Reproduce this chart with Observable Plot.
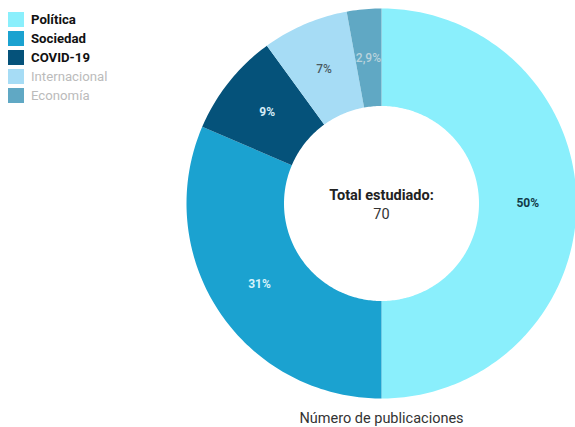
<!DOCTYPE html>
<html><head><meta charset="utf-8">
<script src="https://cdn.jsdelivr.net/npm/d3@7"></script>
<script src="https://cdn.jsdelivr.net/npm/@observablehq/plot@0.6"></script>
<style>
html,body{margin:0;padding:0;background:#fff;overflow:hidden;width:575px;height:427px;}
#wrap{position:relative;width:575px;height:427px;font-family:Roboto,"Noto Sans",sans-serif;}
#legend{position:absolute;left:8px;top:10px;font-size:13.2px;line-height:19px;}
.row{display:flex;align-items:center;height:19px;}
.sw{width:16px;height:15px;margin-right:7px;}
</style></head>
<body><div id="wrap"><div id="chart"></div><div id="legend"></div></div>
<script>
const categories = ["Política","Sociedad","COVID-19","Internacional","Economía"];
const counts = [35, 22, 6, 5, 2];
const pctLabels = ["50%","31%","9%","7%","2,9%"];
const colors = ["#8aeffc","#1ba2d0","#05527a","#a6dcf5","#60a8c4"];
const labelColors = ["#123a48","#d6f3fb","#d6ecf7","#4a5a62","#b9d3dc"];
const labelWeights = [700,700,700,500,500];
const legendText = ["#111","#111","#111","#bbbbbb","#bbbbbb"];
const legendWeight = [700,700,700,400,400];
const totalLabel = "Total estudiado:";
const caption = "Número de publicaciones";

const total = d3.sum(counts);
const rIn = 0.5, rOut = 1;
const pie = d3.pie().sort(null).value(d => d.value)(categories.map((c,i)=>({cat:c, value:counts[i], i})));
const pts = [];
for (const a of pie) {
  const n = Math.max(8, Math.ceil((a.endAngle - a.startAngle) * 60));
  const outer = d3.range(n+1).map(k => a.startAngle + (a.endAngle - a.startAngle) * k / n);
  for (const t of outer) pts.push({cat:a.data.cat, x: rOut*Math.sin(t), y: rOut*Math.cos(t)});
  for (const t of outer.slice().reverse()) pts.push({cat:a.data.cat, x: rIn*Math.sin(t), y: rIn*Math.cos(t)});
}
const labels = pie.map(a => {
  const t = (a.startAngle + a.endAngle)/2, r = (rIn+rOut)/2;
  return {x: r*Math.sin(t), y: r*Math.cos(t), text: pctLabels[a.data.i], color: labelColors[a.data.i], w: labelWeights[a.data.i]};
});

const chart = Plot.plot({
  width: 575, height: 427,
  margin: 0,
  style: {fontFamily: "Roboto, 'Noto Sans', sans-serif", overflow: "hidden", background: "#fff"},
  x: {domain: [-1, 1], range: [186, 576], axis: null},
  y: {domain: [-1, 1], range: [398, 8], axis: null},
  color: {domain: categories, range: colors},
  marks: [
    Plot.line(pts, {x: "x", y: "y", z: "cat", fill: "cat", stroke: "none", curve: "linear"}),
    Plot.text(labels.filter(d => d.w === 700), {x: "x", y: "y", text: "text", fill: d => d.color, fontWeight: 700, fontSize: 12}),
    Plot.text(labels.filter(d => d.w !== 700), {x: "x", y: "y", text: "text", fill: d => d.color, fontWeight: 500, fontSize: 12}),
    Plot.text([totalLabel], {x: () => 0, y: () => 0, text: d => d, dy: -8, fontWeight: 700, fontSize: 14.5, fill: "#222"}),
    Plot.text([String(total)], {x: () => 0, y: () => 0, text: d => d, dy: 11, fontSize: 14.5, fill: "#333"}),
    Plot.text([caption], {x: () => 0, y: () => -1, text: d => d, dy: 20, fontSize: 14.5, fill: "#333"})
  ]
});
document.getElementById("chart").appendChild(chart);

const lg = document.getElementById("legend");
categories.forEach((c,i) => {
  const row = document.createElement("div"); row.className = "row";
  const sw = document.createElement("div"); sw.className = "sw"; sw.style.background = colors[i];
  const tx = document.createElement("span"); tx.textContent = c; tx.style.color = legendText[i]; tx.style.fontWeight = legendWeight[i];
  row.appendChild(sw); row.appendChild(tx); lg.appendChild(row);
});
</script></body></html>
